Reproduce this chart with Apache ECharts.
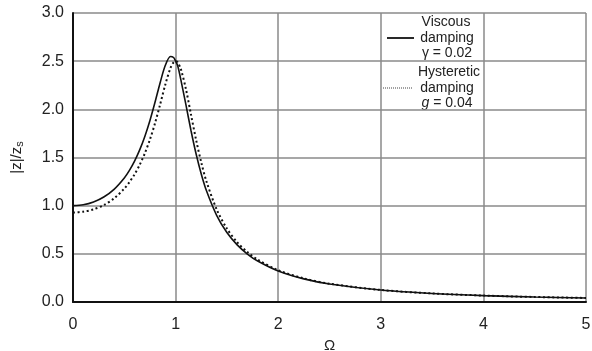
<!DOCTYPE html>
<html>
<head>
<meta charset="utf-8">
<script src="https://cdn.jsdelivr.net/npm/echarts@6/dist/echarts.min.js"></script>
<style>html,body{margin:0;padding:0;background:#fff;}#c{width:592px;height:351px;}</style>
</head>
<body>
<div id="c"></div>
<script>
var omega = [0,0.1,0.2,0.3,0.4,0.5,0.55,0.6,0.65,0.7,0.75,0.8,0.85,0.9,0.95,0.98,1.0,1.02,1.05,1.1,1.15,1.2,1.25,1.3,1.4,1.5,1.6,1.7,1.8,2.0,2.25,2.5,3.0,3.5,4.0,4.5,5.0];
var viscous = [1.000,1.009,1.038,1.090,1.170,1.288,1.367,1.463,1.579,1.719,1.885,2.076,2.279,2.457,2.549,2.538,2.500,2.455,2.313,2.051,1.780,1.536,1.329,1.157,0.900,0.721,0.593,0.498,0.425,0.322,0.240,0.187,0.124,0.088,0.066,0.052,0.042];
var hysteretic = [0.929,0.937,0.962,1.006,1.075,1.177,1.244,1.325,1.424,1.543,1.687,1.858,2.054,2.258,2.429,2.488,2.500,2.487,2.422,2.214,1.946,1.682,1.449,1.254,0.962,0.762,0.621,0.518,0.440,0.330,0.245,0.190,0.125,0.089,0.067,0.052,0.042];
var xTicks = [0,1,2,3,4,5];
var yTicks = [0,0.5,1,1.5,2,2.5,3];

function pairs(xs, ys){ return xs.map(function(x,i){return [x, ys[i]];}); }

var chart = echarts.init(document.getElementById('c'), null, {renderer:'canvas'});
var font = 'Liberation Sans, Arial, sans-serif';
chart.setOption({
  animation: false,
  backgroundColor: '#fff',
  grid: {left: 73, right: 6, top: 13, bottom: 49, containLabel: false, outerBoundsMode: 'none'},
  xAxis: {
    type: 'value', min: 0, max: 5, interval: 1,
    name: 'Ω', nameLocation: 'middle', nameGap: 33,
    nameTextStyle: {fontFamily: font, fontSize: 15, color: '#222'},
    axisLine: {show: true, lineStyle: {color: '#111', width: 2}},
    axisTick: {show: false},
    axisLabel: {fontFamily: font, fontSize: 16, color: '#222', margin: 15},
    splitLine: {show: true, lineStyle: {color: '#8a8a8a', width: 1.5}}
  },
  yAxis: {
    type: 'value', min: 0, max: 3, interval: 0.5,
    name: '|z|/z{s|s}', nameLocation: 'middle', nameGap: 48, nameRotate: 90,
    nameTextStyle: {fontFamily: font, fontSize: 15, color: '#222',
      rich: {s: {fontFamily: font, fontSize: 11, color: '#222', verticalAlign: 'bottom', padding: [6, 0, 0, 0]}}},
    axisLine: {show: true, lineStyle: {color: '#111', width: 2}},
    axisTick: {show: false},
    axisLabel: {fontFamily: font, fontSize: 16, color: '#222', margin: 9,
      formatter: function(v){ return v.toFixed(1); }},
    splitLine: {show: true, lineStyle: {color: '#8a8a8a', width: 1.5}}
  },
  series: [
    {type: 'line', name: 'Viscous', data: pairs(omega, viscous), smooth: 0.3, showSymbol: false,
     lineStyle: {color: '#111', width: 1.6}},
    {type: 'line', name: 'Hysteretic', data: pairs(omega, hysteretic), smooth: 0.3, showSymbol: false,
     lineStyle: {color: '#111', width: 2, type: [2, 2.6]}}
  ],
  graphic: [
    {type: 'line', shape: {x1: 387, y1: 38, x2: 414, y2: 38}, style: {stroke: '#111', lineWidth: 1.8}},
    {type: 'text', x: 446, y: 22, style: {text: 'Viscous', font: '14px ' + font, fill: '#222', textAlign: 'center', textVerticalAlign: 'middle'}},
    {type: 'text', x: 447, y: 38, style: {text: 'damping', font: '14px ' + font, fill: '#222', textAlign: 'center', textVerticalAlign: 'middle'}},
    {type: 'text', x: 447, y: 53, style: {text: 'γ = 0.02', font: '14px ' + font, fill: '#222', textAlign: 'center', textVerticalAlign: 'middle'}},
    {type: 'line', shape: {x1: 383, y1: 88, x2: 412, y2: 88}, style: {stroke: '#444', lineWidth: 1, lineDash: [1, 1]}},
    {type: 'text', x: 449, y: 72, style: {text: 'Hysteretic', font: '14px ' + font, fill: '#222', textAlign: 'center', textVerticalAlign: 'middle'}},
    {type: 'text', x: 447, y: 88, style: {text: 'damping', font: '14px ' + font, fill: '#222', textAlign: 'center', textVerticalAlign: 'middle'}},
    {type: 'text', x: 447, y: 103, style: {text: '{i|g} = 0.04', font: '14px ' + font, fill: '#222', textAlign: 'center', textVerticalAlign: 'middle', rich: {i: {fontStyle: 'italic', fontFamily: font, fontSize: 14, fill: '#222'}}}}
  ]
});
</script>
</body>
</html>
